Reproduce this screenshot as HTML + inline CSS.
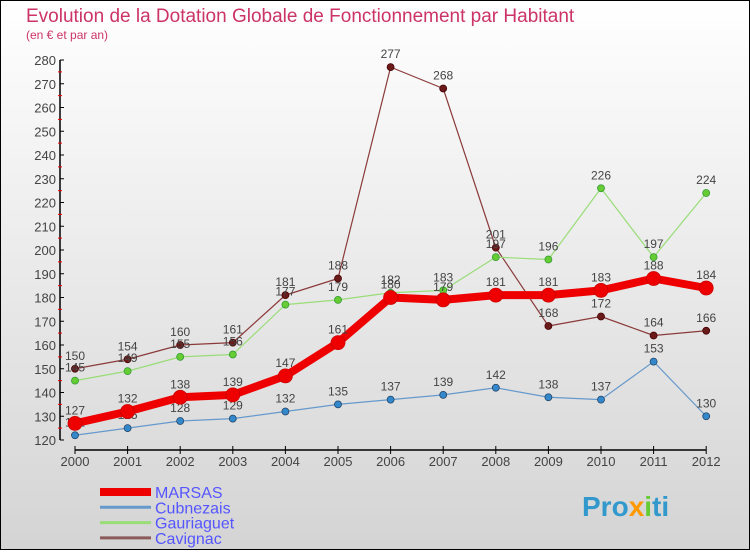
<!DOCTYPE html>
<html><head><meta charset="utf-8"><style>
body{margin:0}
#c{width:750px;height:550px;position:relative;font-family:"Liberation Sans",sans-serif}
</style></head><body>
<div id="c">
<svg id="s" width="750" height="550" xmlns="http://www.w3.org/2000/svg">
<defs><linearGradient id="bg" x1="0" y1="0" x2="0" y2="1"><stop offset="0" stop-color="#ffffff"/><stop offset="1" stop-color="#d4d4d4"/></linearGradient></defs>
<rect x="0.5" y="0.5" width="749" height="549" fill="url(#bg)" stroke="#000"/>
<text x="26" y="22" font-size="19" fill="#cc3366">Evolution de la Dotation Globale de Fonctionnement par Habitant</text>
<text x="26" y="39" font-size="12" fill="#cc3366">(en € et par an)</text>
<g id="axes"></g><g id="series"></g><g id="legend"></g>
<text x="582" y="516" font-size="28" font-weight="bold" fill="#3399cc">Pro<tspan fill="#ff9900">x</tspan><tspan fill="#66cc33">i</tspan>ti</text>
</svg>
</div>
<script>
const years=[2000,2001,2002,2003,2004,2005,2006,2007,2008,2009,2010,2011,2012];
const yTicks=[120,130,140,150,160,170,180,190,200,210,220,230,240,250,260,270,280];
const marsas=[127,132,138,139,147,161,180,179,181,181,183,188,184];
const cubnezais=[122,125,128,129,132,135,137,139,142,138,137,153,130];
const gauriaguet=[145,149,155,156,177,179,182,183,197,196,226,197,224];
const cavignac=[150,154,160,161,181,188,277,268,201,168,172,164,166];
const NS="http://www.w3.org/2000/svg";
const X=i=>75+i*52.6;
const Y=v=>440-(v-120)*380/160;
function mk(t,a,p){const e=document.createElementNS(NS,t);for(const k in a)e.setAttribute(k,a[k]);(p||document.getElementById('axes')).appendChild(e);return e;}
const ax=document.getElementById('axes');
let e=mk('line',{x1:60,y1:Y(280),x2:60,y2:Y(120),stroke:'#000','stroke-width':1.5});


e=mk('line',{x1:X(0),y1:450,x2:X(12),y2:450,stroke:'#000','stroke-width':1.5});


yTicks.forEach(v=>{
 mk('line',{x1:60,y1:Y(v),x2:64,y2:Y(v),stroke:'#000'});
 if(v<280) mk('line',{x1:58,y1:Y(v+5),x2:62,y2:Y(v+5),stroke:'#e00'});
 const t=mk('text',{x:56,y:Y(v)+5,'font-size':13,fill:'#444','text-anchor':'end'});
 t.textContent=v;
 
 
});
years.forEach((y,i)=>{
 mk('line',{x1:X(i),y1:446,x2:X(i),y2:454,stroke:'#000'});
 const t=mk('text',{x:X(i),y:466,'font-size':13,fill:'#444','text-anchor':'middle'});
 t.textContent=y;
 
 
});
const sg=document.getElementById('series');
function series(name,vals,color,dot,w,r,fill){
 const g=mk('g',{},sg);
 
 
 mk('polyline',{points:vals.map((v,i)=>X(i)+','+Y(v)).join(' '),fill:'none',stroke:color,'stroke-width':w,'stroke-linejoin':'round'},g);
 vals.forEach((v,i)=>{
  const c=mk('circle',{cx:X(i),cy:Y(v),r:r,fill:dot,stroke:fill,'stroke-width':0.8},g);
  
  
  const t=mk('text',{x:X(i),y:Y(v)-9,'font-size':12,fill:'#444','text-anchor':'middle'},g);
  t.textContent=v;
  
  
 });
}
series('cavignac',cavignac,'#8b3a3a','#6b1a1a',1.2,3.5,'#400');
series('gauriaguet',gauriaguet,'#99dd77','#66cc33',1.2,3.5,'#393');
series('cubnezais',cubnezais,'#6699cc','#3388cc',1.2,3.5,'#246');
series('marsas',marsas,'#ee0000','#ee0000',8,7,'#c00');
const lg=document.getElementById('legend');
[['MARSAS','#ee0000',8],['Cubnezais','#6699cc',3],['Gauriaguet','#99dd77',3],['Cavignac','#8b5a5a',3]].forEach((d,i)=>{
 const y=492+i*15.3;
 const l=mk('line',{x1:100,y1:y,x2:151,y2:y,stroke:d[1],'stroke-width':d[2]},lg);
 
 
 const t=mk('text',{x:155,y:y+6,'font-size':16,fill:'#5555ff'},lg);
 t.textContent=d[0];
 
 
});
</script>
</body></html>
